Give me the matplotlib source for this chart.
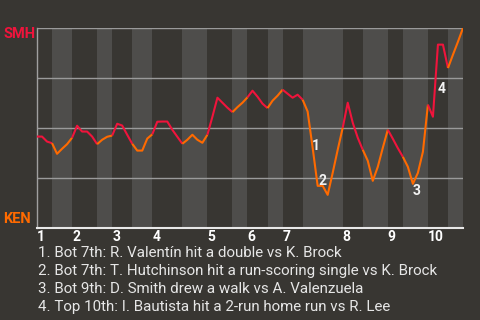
import matplotlib
matplotlib.use('Agg')
import numpy as np
import matplotlib.pyplot as plt

# 每个打席后的 SMH 胜率 (0 = KEN, 1 = SMH)
win_prob = [0.458, 0.458, 0.433, 0.425, 0.372, 0.397, 0.42, 0.452, 0.512, 0.483,
            0.483, 0.458, 0.42, 0.442, 0.457, 0.463, 0.522, 0.513, 0.467, 0.422,
            0.388, 0.388, 0.448, 0.469, 0.532, 0.533, 0.533, 0.492, 0.457, 0.422,
            0.442, 0.467, 0.442, 0.427, 0.467, 0.557, 0.652, 0.627, 0.602, 0.58,
            0.605, 0.627, 0.654, 0.687, 0.657, 0.622, 0.60, 0.637, 0.662, 0.692,
            0.672, 0.652, 0.667, 0.642, 0.583, 0.402, 0.212, 0.212, 0.167, 0.277,
            0.392, 0.502, 0.627, 0.527, 0.452, 0.392, 0.337, 0.237, 0.307, 0.402,
            0.492, 0.447, 0.40, 0.357, 0.307, 0.222, 0.277, 0.382, 0.617, 0.557,
            0.917, 0.917, 0.80, 0.867, 0.932, 1.0]

# 每个半局的打席数 (上, 下, 上, 下 ...)
pa_per_half = [3, 4, 5, 3, 4, 4, 6, 5, 5, 3, 4, 3, 4, 8, 4, 5, 3, 5, 4, 3]
innings = ['1', '2', '3', '4', '5', '6', '7', '8', '9', '10']

# 关键事件
event_pa = [55, 56, 75, 80]
event_text = ['Bot 7th: R. Valentín hit a double vs K. Brock',
              'Bot 7th: T. Hutchinson hit a run-scoring single vs K. Brock',
              'Bot 9th: D. Smith drew a walk vs A. Valenzuela',
              'Top 10th: I. Bautista hit a 2-run home run vs R. Lee']
event_offset = [(-1, -5), (1, -2), (0, -14), (0, -51)]

bg = '#383632'
stripe = '#4e4d4b'
red = '#f0143c'
orange = '#ff6a00'
plt.rcParams['font.family'] = ['Roboto', 'DejaVu Sans']

fig = plt.figure(figsize=(4.8, 3.2), dpi=100, facecolor=bg)
ax = fig.add_axes([37 / 480, 1 - 228.3 / 320, 426 / 480, 200.3 / 320])
ax.set_facecolor(bg)

bounds = np.concatenate([[0], np.cumsum(pa_per_half)])
x = np.arange(len(win_prob))
wp = np.array(win_prob)

# 下半局的浅色条纹
for k in range(len(pa_per_half)):
    if k % 2 == 1:
        ax.axvspan(bounds[k], bounds[k + 1], color=stripe, lw=0, zorder=0)

for g in [0.25, 0.5, 0.75, 1.0]:
    ax.axhline(g, color='#9a9a9a', lw=1, zorder=1)

# 胜率曲线: 上半局红色, 下半局橙色
for k in range(len(pa_per_half)):
    s, e = bounds[k], bounds[k + 1]
    ax.plot(x[s:e + 1], wp[s:e + 1], color=red if k % 2 == 0 else orange,
            lw=1.5, zorder=3, solid_capstyle='butt')

for n, (p, off) in enumerate(zip(event_pa, event_offset), start=1):
    ax.annotate(str(n), (x[p], wp[p]), xytext=off, textcoords='offset pixels',
                color='#f2f2f2', fontsize=10, fontweight='bold',
                ha='left', va='bottom', zorder=4)

ax.set_xlim(0, bounds[-1])
ax.set_ylim(0, 1)
ax.set_yticks([])
ax.set_xticks(bounds[0::2][:len(innings)])
ax.set_xticklabels(innings, ha='left', color='white', fontsize=10, fontweight='bold')
ax.tick_params(axis='x', length=0, pad=1)
for side in ['top', 'right']:
    ax.spines[side].set_visible(False)
ax.spines['left'].set_color('#a0a0a0')
ax.spines['left'].set_linewidth(1)
ax.spines['bottom'].set_color('#e8e8e8')
ax.spines['bottom'].set_linewidth(1.5)

fig.text(3 / 480, 1 - 34 / 320, 'SMH', color=red, fontsize=10.5,
         fontweight='bold', ha='left', va='center')
fig.text(3 / 480, 1 - 219 / 320, 'KEN', color=orange, fontsize=10.5,
         fontweight='bold', ha='left', va='center')

for n, t in enumerate(event_text):
    fig.text(38 / 480, 1 - (253 + 18 * n) / 320, f'{n + 1}. {t}',
             color='#e6e6e6', fontsize=10.9, ha='left', va='center')

fig.savefig('out.png', dpi=100, facecolor=bg)
